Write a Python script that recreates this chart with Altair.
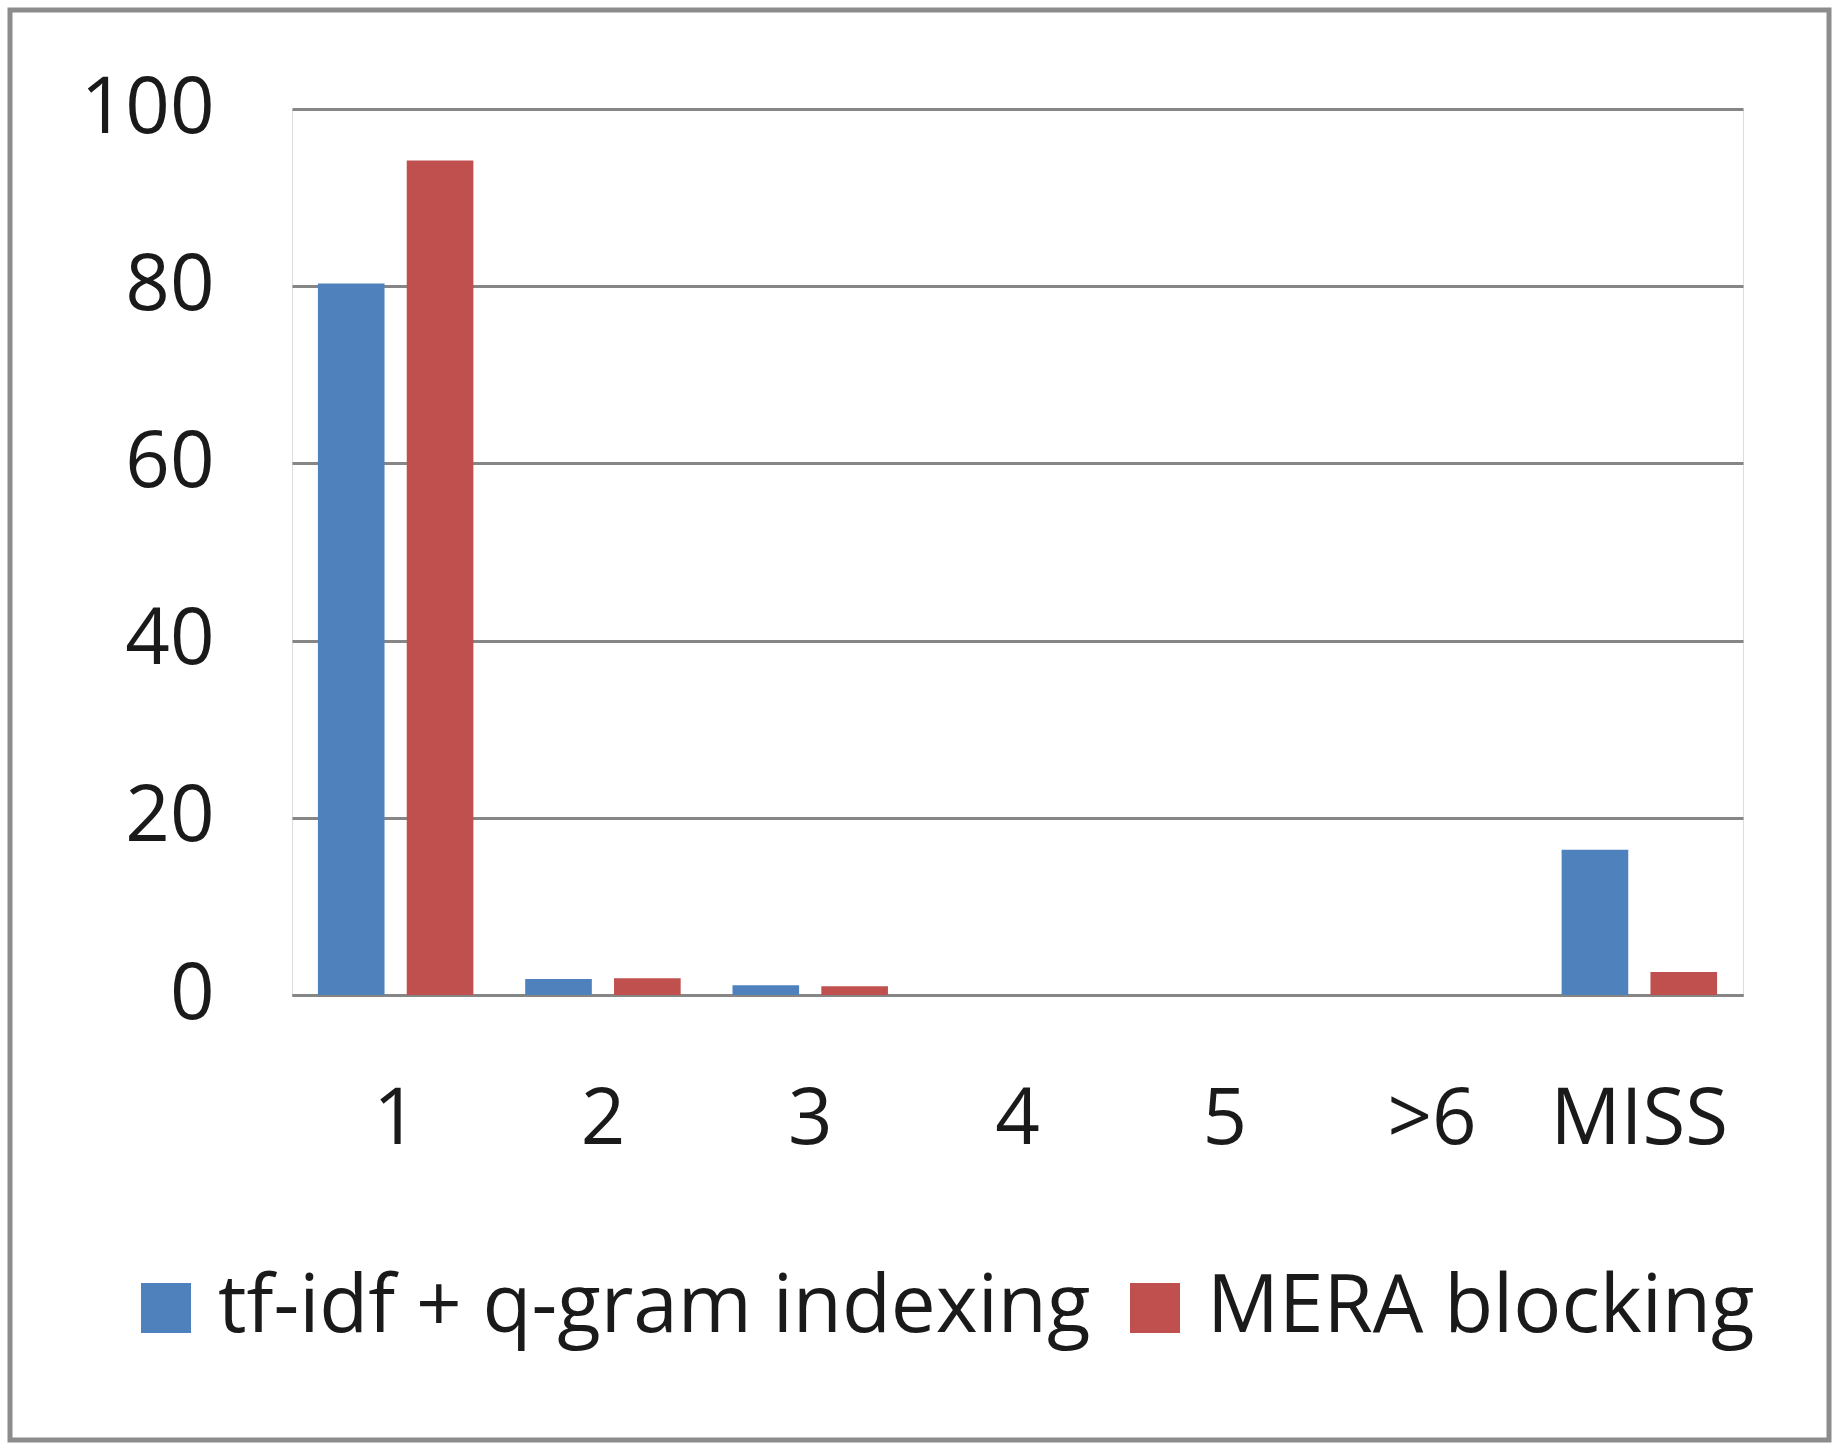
import altair as alt
import pandas as pd

categories = ["1", "2", "3", "4", "5", ">6", "MISS"]
series_names = ["tf-idf + q-gram indexing", "MERA blocking"]
tfidf_values = [80.3, 1.8, 1.1, 0, 0, 0, 16.4]
mera_values = [94.2, 1.9, 1.0, 0, 0, 0, 2.6]
colors = ["#4F81BD", "#C0504D"]

rows = []
for c, v in zip(categories, tfidf_values):
    rows.append({"cat": c, "series": series_names[0], "value": v})
for c, v in zip(categories, mera_values):
    rows.append({"cat": c, "series": series_names[1], "value": v})
df = pd.DataFrame(rows)

FONT = "Open Sans"
W, H = 1451, 886
LEFT, TOP = 292, 109

bars = alt.Chart(df).mark_bar().encode(
    x=alt.X("cat:N", sort=categories,
            scale=alt.Scale(paddingInner=0.25, paddingOuter=0.125),
            axis=alt.Axis(title=None, labelAngle=0, ticks=False, labelPadding=86,
                          domainColor="#868686", domainWidth=3, grid=False,
                          labelFont=FONT, labelFontSize=78, labelColor="#1a1a1a")),
    xOffset=alt.XOffset("series:N", sort=series_names,
                        scale=alt.Scale(paddingInner=0.25, paddingOuter=0)),
    y=alt.Y("value:Q", scale=alt.Scale(domain=[0, 100], nice=False),
            axis=alt.Axis(title=None, values=[0, 20, 40, 60, 80, 100], ticks=False,
                          domain=False, labelPadding=78, gridColor="#868686",
                          gridWidth=3, labelFont=FONT, labelFontSize=78,
                          labelColor="#1a1a1a")),
    color=alt.Color("series:N", sort=series_names,
                    scale=alt.Scale(domain=series_names, range=colors),
                    legend=alt.Legend(title=None, orient="none", direction="horizontal",
                                      legendX=-166, legendY=1159,
                                      symbolType="square", symbolSize=2500,
                                      symbolStrokeWidth=0, labelFont=FONT,
                                      labelFontSize=80, labelColor="#1a1a1a",
                                      labelOffset=12, columnPadding=24,
                                      labelLimit=2000)),
)

frame = alt.Chart(pd.DataFrame({"a": [0]})).mark_rect(
    fill="transparent", stroke="#8c8c8c", strokeWidth=5
).encode(
    x=alt.value(10 - LEFT), x2=alt.value(1829 - LEFT),
    y=alt.value(10 - TOP), y2=alt.value(1440 - TOP),
)

chart = alt.layer(bars, frame).properties(
    width=W, height=H,
    autosize=alt.AutoSizeParams(type="none"),
    padding={"left": LEFT, "top": TOP, "right": 1834 - LEFT - W, "bottom": 1443 - TOP - H},
).configure_view(strokeWidth=0, strokeOpacity=0).configure_axisX(grid=False).configure(background="white")

chart.save("out.html", embed_options={"renderer": "svg", "actions": False})
